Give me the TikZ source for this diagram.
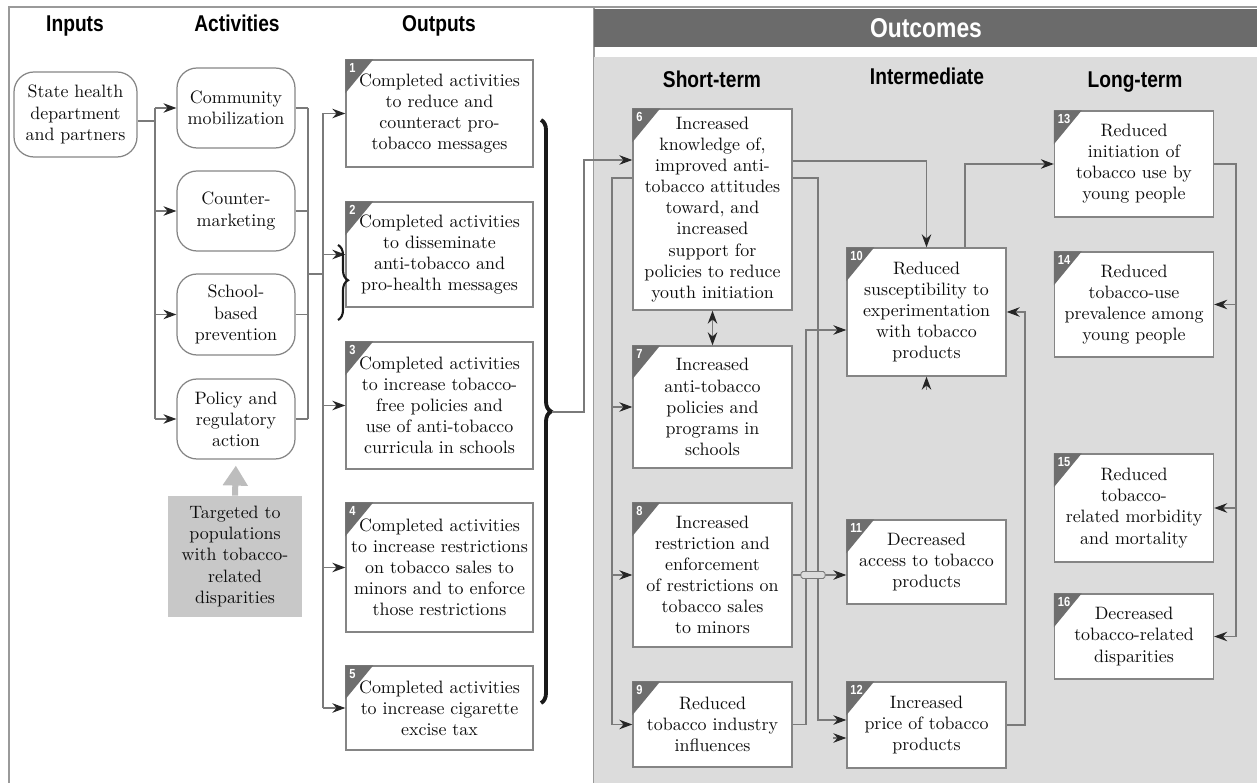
\documentclass[tikz,border=0pt]{standalone}
\usepackage{fontspec}
\newfontfamily\hdfont[FakeStretch=0.84]{Liberation Sans}
\usepackage{xcolor}
\usetikzlibrary{positioning,arrows.meta,decorations.pathreplacing}

\definecolor{panelgray}{HTML}{DCDCDC}
\definecolor{bargray}{HTML}{6B6B6B}
\definecolor{tabgray}{HTML}{6E6E6E}
\definecolor{tgtgray}{HTML}{C8C8C8}
\definecolor{fatgray}{HTML}{BDBDBD}
\definecolor{boxgray}{HTML}{858585}
\definecolor{linegray}{HTML}{7A7A7A}
\definecolor{tipgray}{HTML}{262626}
\definecolor{framegray}{HTML}{9A9A9A}

\newcommand{\bodyfont}{\fontsize{10.2}{12}\selectfont}
\newcommand{\numtab}[2]{%
  \fill[tabgray] (#1.north west) -- ++(28,0) -- ++(-28,34) -- cycle;
  \node[numtxt] (n#1) at ([shift={(2,2)}]#1.north west) {#2};}

\begin{document}
\begin{tikzpicture}[x=0.02cm,y=-0.02cm,every node/.style={font=\bodyfont,text=black!95}]
\tikzstyle{hd}=[font=\hdfont\bfseries\fontsize{13}{14}\selectfont,text=black,anchor=base]
\tikzstyle{inbox}=[draw=boxgray,line width=0.7pt,rounded corners=0.4cm,align=center,inner sep=2pt]
\tikzstyle{obox}=[draw=boxgray,line width=0.8pt,fill=white,align=center,inner sep=2pt]
\tikzstyle{numtxt}=[font=\hdfont\bfseries\fontsize{7.5}{7.5}\selectfont,text=white,anchor=north west,inner sep=1pt]
\tikzstyle{ln}=[draw=linegray,line width=0.65pt]
\tikzstyle{arr}=[ln,-{Stealth[length=0.26cm,width=0.19cm,color=tipgray]}]
\tikzstyle{darr}=[ln,{Stealth[length=0.26cm,width=0.19cm,color=tipgray]}-{Stealth[length=0.26cm,width=0.19cm,color=tipgray]}]
\tikzstyle{fat}=[draw=fatgray,line width=0.12cm,-{Triangle[length=0.4cm,width=0.48cm,color=fatgray]}]
\tikzstyle{brc}=[decorate,decoration={brace,amplitude=0.2cm,aspect=0.5},line width=2.2pt,black!90]
\tikzstyle{sbrc}=[decorate,decoration={brace,amplitude=0.2cm,aspect=0.47},line width=1.2pt,black!90]
\tikzstyle{bridge}=[draw=linegray,fill=panelgray,line width=0.5pt,rounded corners=1pt,minimum width=0.48cm,minimum height=0.14cm,inner sep=0pt]
\useasboundingbox (0,0) rectangle (1257,783);

% frame and outcome panel
\draw[framegray,line width=0.8pt] (9,783) -- (9,7) -- (1257,7);
\draw[framegray,line width=0.8pt] (594,7) -- (594,783);
\fill[panelgray] (594,57) rectangle (1257,783);
\fill[bargray] (594,9) rectangle (1257,47);

% headers
\node[hd] (hin) at (75,32) {Inputs};
\node[hd] (hact) at (237,32) {Activities};
\node[hd] (hout) at (439,32) {Outputs};
\node[hd,font=\hdfont\bfseries\fontsize{15.5}{17}\selectfont,text=white] (hoc) at (926,38) {Outcomes};
\node[hd] (hst) at (712,88) {Short-term};
\node[hd] (hint) at (927,85) {Intermediate};
\node[hd] (hlt) at (1135,88) {Long-term};

% inputs and activities
\node[inbox,minimum width=2.46cm,minimum height=1.70cm] (inp) at (75.5,114.5) {State health\\department\\and partners};
\node[inbox,minimum width=2.36cm,minimum height=1.60cm] (act1) at (236,108) {Community\\mobilization};
\node[inbox,minimum width=2.36cm,minimum height=1.60cm] (act2) at (236,211) {Counter-\\marketing};
\node[inbox,minimum width=2.36cm,minimum height=1.62cm] (act3) at (236,314.5) {School-\\based\\prevention};
\node[inbox,minimum width=2.36cm,minimum height=1.60cm] (act4) at (236,419) {Policy and\\regulatory\\action};
\node[fill=tgtgray,align=center,minimum width=2.68cm,minimum height=2.42cm,inner sep=2pt] (tgt) at (235,556.5) {Targeted to\\populations\\with tobacco-\\related\\disparities};

% outputs
\node[obox,minimum width=3.74cm,minimum height=2.14cm] (o1) at (439.5,113.5) {Completed activities\\to reduce and\\counteract pro-\\tobacco messages};
\node[obox,minimum width=3.74cm,minimum height=2.10cm] (o2) at (439.5,254.5) {Completed activities\\to disseminate\\anti-tobacco and\\pro-health messages};
\node[obox,minimum width=3.74cm,minimum height=2.54cm] (o3) at (439.5,405.5) {Completed activities\\to increase tobacco-\\free policies and\\use of anti-tobacco\\curricula in schools};
\node[obox,minimum width=3.74cm,minimum height=2.58cm] (o4) at (439.5,567.5) {Completed activities\\to increase restrictions\\on tobacco sales to\\minors and to enforce\\those restrictions};
\node[obox,minimum width=3.74cm,minimum height=1.68cm] (o5) at (439.5,708) {Completed activities\\to increase cigarette\\excise tax};

% outcomes
\node[obox,minimum width=3.18cm,minimum height=4.02cm] (b6) at (712.5,209.5) {Increased\\knowledge of,\\improved anti-\\tobacco attitudes\\toward, and\\increased\\support for\\policies to reduce\\youth initiation};
\node[obox,minimum width=3.18cm,minimum height=2.44cm] (b7) at (712.5,407) {Increased\\anti-tobacco\\policies and\\programs in\\schools};
\node[obox,minimum width=3.18cm,minimum height=2.88cm] (b8) at (712.5,575) {Increased\\restriction and\\enforcement\\of restrictions on\\tobacco sales\\to minors};
\node[obox,minimum width=3.18cm,minimum height=1.70cm] (b9) at (712.5,724.5) {Reduced\\tobacco industry\\influences};
\node[obox,minimum width=3.18cm,minimum height=2.56cm] (b10) at (926.5,312) {Reduced\\susceptibility to\\experimentation\\with tobacco\\products};
\node[obox,minimum width=3.18cm,minimum height=1.68cm] (b11) at (926.5,562) {Decreased\\access to tobacco\\products};
\node[obox,minimum width=3.18cm,minimum height=1.72cm] (b12) at (926.5,725) {Increased\\price of tobacco\\products};
\node[obox,minimum width=3.18cm,minimum height=2.12cm] (b13) at (1134,164) {Reduced\\initiation of\\tobacco use by\\young people};
\node[obox,minimum width=3.18cm,minimum height=2.10cm] (b14) at (1134,304.5) {Reduced\\tobacco-use\\prevalence among\\young people};
\node[obox,minimum width=3.18cm,minimum height=2.16cm] (b15) at (1134,508) {Reduced\\tobacco-\\related morbidity\\and mortality};
\node[obox,minimum width=3.18cm,minimum height=1.70cm] (b16) at (1134,636.5) {Decreased\\tobacco-related\\disparities};

% number tabs
\numtab{o1}{1} \numtab{o2}{2} \numtab{o3}{3} \numtab{o4}{4} \numtab{o5}{5}
\numtab{b6}{6} \numtab{b7}{7} \numtab{b8}{8} \numtab{b9}{9} \numtab{b10}{10} \numtab{b11}{11}
\numtab{b12}{12} \numtab{b13}{13} \numtab{b14}{14} \numtab{b15}{15} \numtab{b16}{16}

% inputs -> activities -> outputs
\coordinate (ja) at (155,121);
\coordinate (jb) at (308,274);
\coordinate (jc) at (323,274);
\draw[ln] (inp.east|-ja) -- (ja);
\draw[ln] (ja|-act1.west) -- (ja|-act4.west);
\foreach \n in {act1,act2,act3,act4} {
  \draw[arr] (ja|-\n.west) -- (\n.west);
  \draw[ln] (\n.east) -- (jb|-\n.east);
}
\draw[ln] (jb|-act1.east) -- (jb|-act4.east);
\draw[ln] (jb) -- (jc);
\draw[ln] (jc|-o1.west) -- (jc|-o5.west);
\foreach \n in {o1,o2,o3,o4,o5}
  \draw[arr] (jc|-\n.west) -- (\n.west);
\draw[fat,shorten >=0.12cm] (tgt.north) -- (act4.south);

% braces
\coordinate (sbt) at (338,245);
\coordinate (sbb) at (338,320);
\draw[sbrc] (sbt) -- (sbb);
\coordinate (bt) at (541,120);
\coordinate (bb) at (541,703);
\coordinate (brt) at (552,412);
\draw[brc] (bt) -- (bb);

% outcomes connectors
\coordinate (k1) at (584,160);
\draw[arr] (brt) -| (k1) -- (b6.west|-k1);
\coordinate (l1) at (612,178);
\draw[arr] (b6.west|-l1) -- (l1) |- (b9.west);
\foreach \n in {b7,b8}
  \draw[arr] (l1|-\n.west) -- (\n.west);
\draw[darr] (b6.south) -- (b7.north);
\coordinate (m1) at (800,161);
\draw[arr] (b6.east|-m1) -| (b10.north);
\coordinate (r1) at (818,178);
\coordinate (r2) at (818,720);
\draw[arr] (b6.east|-r1) -- (r1) -- (r2) -- (b12.west|-r2);
\coordinate (n1) at (806,330);
\draw[arr] (b9.east) -| (n1) -- (b10.west|-n1);
\draw[arr] (b8.east) -- (b11.west|-b8.east);
\coordinate (bx) at (813,0);
\node[bridge] (brg) at (bx|-b8.east) {};
\coordinate (s12) at (833,738);
\draw[arr] (s12) -- (b12.west|-s12);
\coordinate (s10) at (926.5,390);
\draw[arr] (s10) -- (b10.south);
\coordinate (t1) at (965,0);
\draw[arr] (t1|-b10.north) |- (b13.west);
\coordinate (u1) at (1025,0);
\draw[arr] (b12.east) -| (u1|-b10.east) -- (b10.east);
\coordinate (v1) at (1236,0);
\draw[arr] (b13.east) -| (v1|-b16.east) -- (b16.east);
\foreach \n in {b14,b15}
  \draw[arr] (v1|-\n.east) -- (\n.east);
\end{tikzpicture}
\end{document}
